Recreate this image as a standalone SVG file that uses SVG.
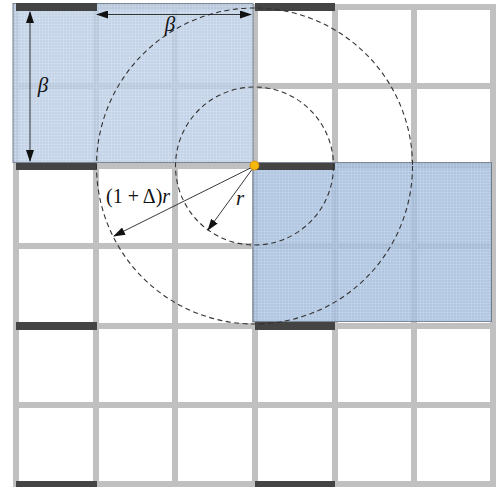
<svg xmlns="http://www.w3.org/2000/svg" width="497" height="487" viewBox="0 0 497 487">
<defs>
<style>
.grid line{stroke:#c0c0c0;stroke-width:6}
.bar{fill:#444}
.zone{fill-opacity:0.82;stroke:#6f7c8c;stroke-width:1}
.z1{fill:rgb(183,202,227)}
.z2{fill:rgb(160,185,219)}
.tex{fill:url(#tex)}
.circ{fill:none;stroke:#333;stroke-width:1.1;stroke-dasharray:5 3.5}
.arr{stroke:#222;stroke-width:0.9;fill:none;marker-end:url(#ah)}
.arr2{stroke:#222;stroke-width:0.9;fill:none;marker-start:url(#ahs);marker-end:url(#ah)}
.lbl{font-family:"Liberation Serif","Times New Roman",serif;fill:#111}
</style>
<pattern id="tex" width="3" height="3" patternUnits="userSpaceOnUse">
<path d="M0 0.5H3M0.5 0V3" stroke="#ffffff" stroke-opacity="0.18" stroke-width="0.8"/>
</pattern>
<marker id="ah" markerWidth="12" markerHeight="8" refX="11" refY="4" orient="auto" markerUnits="userSpaceOnUse">
<path d="M0,0 L12,4 L0,8 Z" fill="#111"/>
</marker>
<marker id="ahs" markerWidth="12" markerHeight="8" refX="1" refY="4" orient="auto" markerUnits="userSpaceOnUse">
<path d="M12,0 L0,4 L12,8 Z" fill="#111"/>
</marker>
</defs>
<rect width="497" height="487" fill="#ffffff"/>
<g id="grid" class="grid">
<line x1="16" y1="4" x2="16" y2="487"/>
<line x1="96" y1="4" x2="96" y2="487"/>
<line x1="175" y1="4" x2="175" y2="487"/>
<line x1="255" y1="4" x2="255" y2="487"/>
<line x1="335" y1="4" x2="335" y2="487"/>
<line x1="414" y1="4" x2="414" y2="487"/>
<line x1="493" y1="4" x2="493" y2="487"/>
<line x1="13" y1="7" x2="496" y2="7"/>
<line x1="13" y1="86" x2="496" y2="86"/>
<line x1="13" y1="166" x2="496" y2="166"/>
<line x1="13" y1="246" x2="496" y2="246"/>
<line x1="13" y1="326" x2="496" y2="326"/>
<line x1="13" y1="405" x2="496" y2="405"/>
<line x1="13" y1="484" x2="496" y2="484"/>
</g>
<g id="zone-top-left">
<rect class="zone z1" x="13" y="3.5" width="240" height="159"/>
<rect class="tex" x="13" y="3.5" width="240" height="159"/>
</g>
<g id="zone-right">
<rect class="zone z2" x="253" y="162.5" width="238.5" height="159"/>
<rect class="tex" x="253" y="162.5" width="238.5" height="159"/>
</g>
<g id="bars">
<rect class="bar" x="16" y="3" width="81" height="8"/>
<rect class="bar" x="255" y="3" width="80" height="8"/>
<rect class="bar" x="16" y="163" width="81" height="7"/>
<rect class="bar" x="255" y="163" width="80" height="7"/>
<rect class="bar" x="16" y="322" width="81" height="8"/>
<rect class="bar" x="255" y="322" width="80" height="8"/>
<rect class="bar" x="16" y="481" width="81" height="6"/>
<rect class="bar" x="255" y="481" width="80" height="6"/>
</g>
<g id="circles">
<circle class="circ" cx="254.5" cy="166" r="79"/>
<circle class="circ" cx="254.5" cy="166" r="158"/>
</g>
<g id="connectors">
<line class="arr2" x1="97" y1="14.5" x2="251" y2="14.5"/>
<line class="arr2" x1="30" y1="12" x2="30" y2="161"/>
<line class="arr" x1="254.5" y1="166" x2="208" y2="230"/>
<line class="arr" x1="254.5" y1="166" x2="114" y2="236"/>
</g>
<g id="labels">
<text class="lbl" x="170" y="31" font-size="21" font-style="italic" text-anchor="middle">β</text>
<text class="lbl" x="43" y="92" font-size="21" font-style="italic" text-anchor="middle">β</text>
<text class="lbl" x="106" y="203" font-size="20">(1 + Δ)<tspan font-style="italic">r</tspan></text>
<text class="lbl" x="236" y="205" font-size="21" font-style="italic">r</text>
</g>
<g id="point">
<circle cx="254.5" cy="165.5" r="4.5" fill="#f6b80a" stroke="#d08a00" stroke-width="0.8"/>
</g>
</svg>
